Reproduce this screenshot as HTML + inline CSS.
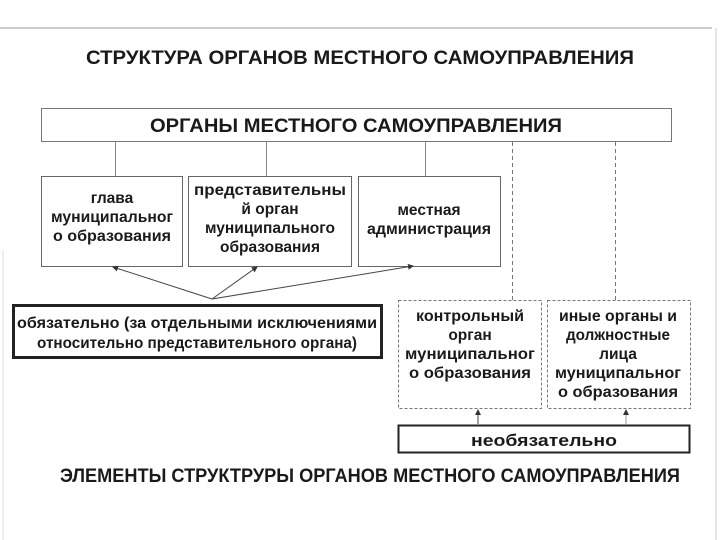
<!DOCTYPE html>
<html><head><meta charset="utf-8"><style>
html,body{margin:0;padding:0;background:#fff}
svg{display:block}
text{font-family:"Liberation Sans","DejaVu Sans",sans-serif;fill:#1a1a1a}
.b{font-weight:bold}
</style></head><body>
<svg width="720" height="540" viewBox="0 0 720 540" xmlns="http://www.w3.org/2000/svg">
<defs><marker id="a" markerWidth="6" markerHeight="6" refX="5" refY="3" orient="auto"><path d="M0,0 L6,3 L0,6 z" fill="#333"/></marker></defs>
<line x1="0" y1="28" x2="712" y2="28" stroke="#999" stroke-width="1"/>
<line x1="716" y1="28" x2="716" y2="540" stroke="#ccc" stroke-width="1"/>
<line x1="3" y1="250" x2="3" y2="540" stroke="#ddd" stroke-width="1"/>
<text x="360" y="64" text-anchor="middle" font-size="19" class="b" textLength="548" lengthAdjust="spacingAndGlyphs">СТРУКТУРА ОРГАНОВ МЕСТНОГО САМОУПРАВЛЕНИЯ</text>
<rect x="41.5" y="108.5" width="630" height="33" fill="#fff" stroke="#777"/>
<text x="356" y="132" text-anchor="middle" font-size="19" class="b" textLength="412" lengthAdjust="spacingAndGlyphs">ОРГАНЫ МЕСТНОГО САМОУПРАВЛЕНИЯ</text>
<g stroke="#888"><line x1="115.5" y1="142" x2="115.5" y2="176"/><line x1="266.5" y1="142" x2="266.5" y2="176"/><line x1="425.5" y1="142" x2="425.5" y2="176"/></g>
<g stroke="#777" stroke-dasharray="4,3"><line x1="512.5" y1="142" x2="512.5" y2="300"/><line x1="615.5" y1="142" x2="615.5" y2="300"/></g>
<g fill="#fff" stroke="#666"><rect x="41.5" y="176.5" width="141" height="90"/><rect x="188.5" y="176.5" width="163" height="90"/><rect x="358.5" y="176.5" width="142" height="90"/></g>
<g font-size="15.5" class="b" text-anchor="middle">
<text x="112" y="203">глава</text><text x="112" y="222" textLength="122" lengthAdjust="spacingAndGlyphs">муниципальног</text><text x="112" y="241" textLength="118" lengthAdjust="spacingAndGlyphs">о образования</text>
<text x="270" y="195" textLength="152" lengthAdjust="spacingAndGlyphs">представительны</text><text x="270" y="214">й орган</text><text x="270" y="233" textLength="130" lengthAdjust="spacingAndGlyphs">муниципального</text><text x="270" y="252">образования</text>
<text x="429" y="215">местная</text><text x="429" y="234" textLength="124" lengthAdjust="spacingAndGlyphs">администрация</text>
</g>
<g stroke="#444" stroke-width="1" marker-end="url(#a)"><line x1="212" y1="299" x2="113" y2="267"/><line x1="212" y1="299" x2="257" y2="267"/><line x1="212" y1="299" x2="413" y2="266"/></g>
<rect x="13.5" y="305.5" width="368" height="52" fill="#fff" stroke="#222" stroke-width="3"/>
<g font-size="16" class="b" text-anchor="middle"><text x="197" y="328" textLength="360" lengthAdjust="spacingAndGlyphs">обязательно (за отдельными исключениями</text><text x="197" y="348" textLength="320" lengthAdjust="spacingAndGlyphs">относительно представительного органа)</text></g>
<g fill="#fff" stroke="#777" stroke-dasharray="3,2"><rect x="398.5" y="300.5" width="143" height="108"/><rect x="547.5" y="300.5" width="143" height="108"/></g>
<g font-size="15.5" class="b" text-anchor="middle">
<text x="470" y="321" textLength="108" lengthAdjust="spacingAndGlyphs">контрольный</text><text x="470" y="340">орган</text><text x="470" y="359" textLength="130" lengthAdjust="spacingAndGlyphs">муниципальног</text><text x="470" y="378" textLength="122" lengthAdjust="spacingAndGlyphs">о образования</text>
<text x="618" y="321" textLength="118" lengthAdjust="spacingAndGlyphs">иные органы и</text><text x="618" y="340" textLength="104" lengthAdjust="spacingAndGlyphs">должностные</text><text x="618" y="359">лица</text><text x="618" y="378" textLength="126" lengthAdjust="spacingAndGlyphs">муниципальног</text><text x="618" y="397" textLength="120" lengthAdjust="spacingAndGlyphs">о образования</text>
</g>
<g stroke="#444" marker-end="url(#a)"><line x1="478" y1="424" x2="478" y2="410"/><line x1="626" y1="424" x2="626" y2="410" stroke="#999"/></g>
<rect x="398.5" y="425.5" width="291" height="27" fill="#fff" stroke="#222" stroke-width="2"/>
<text x="544" y="446" text-anchor="middle" font-size="17" class="b" textLength="146" lengthAdjust="spacingAndGlyphs">необязательно</text>
<text x="370" y="482" text-anchor="middle" font-size="19" class="b" textLength="620" lengthAdjust="spacingAndGlyphs">ЭЛЕМЕНТЫ СТРУКТРУРЫ ОРГАНОВ МЕСТНОГО САМОУПРАВЛЕНИЯ</text>
</svg>
</body></html>
